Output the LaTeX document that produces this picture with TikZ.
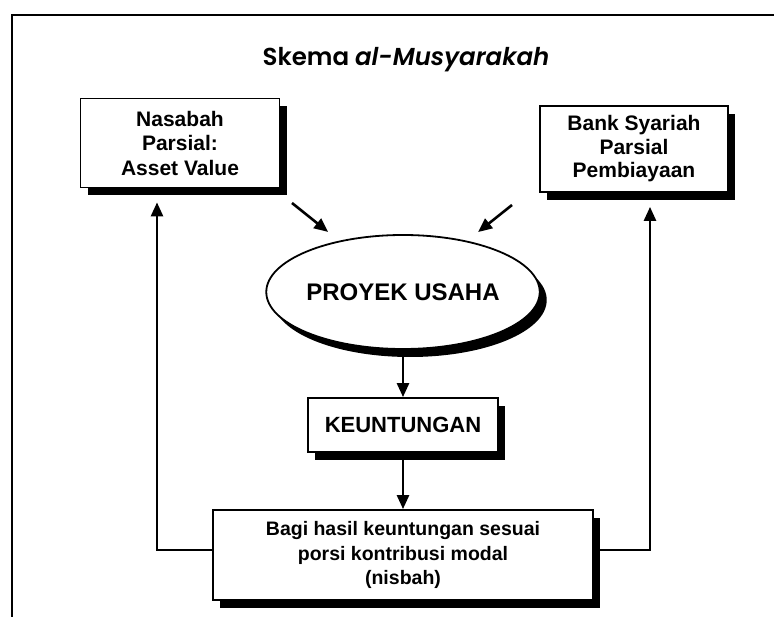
\documentclass[tikz,border=0pt]{standalone}
\usepackage{fontspec}
\setmainfont{Liberation Sans}
\newfontfamily\titlefont{Poppins}[UprightFont=* SemiBold,ItalicFont=* SemiBold Italic]
\usetikzlibrary{arrows.meta,shapes.geometric,shadows}

\begin{document}
\begin{tikzpicture}[x=1pt,y=-1pt,>=Triangle,font=\bfseries,
    kotak/.style={draw,line width=1.8pt,fill=white,align=center,inner sep=0pt,
      drop shadow={shadow xshift=7pt,shadow yshift=-8pt,fill=black,opacity=1}},
    alir/.style={line width=2.6pt,-{Triangle[length=14pt,width=12pt]}}]
    \useasboundingbox (0,0) rectangle (774,617);
    \draw[line width=1.2pt] (12,617) -- (12,15) -- (774,15);
    \node[font=\titlefont\fontsize{24.5}{30}\selectfont] (judul) at (406,60) {Skema \textit{al-Musyarakah}};
    \node[kotak,minimum width=199pt,minimum height=89pt,font=\bfseries\fontsize{21}{24.5}\selectfont] (nasabah) at (180,143) {Nasabah\\Parsial:\\Asset Value};
    \node[kotak,minimum width=188pt,minimum height=86pt,font=\bfseries\fontsize{21}{23.5}\selectfont] (bank) at (634,149) {Bank Syariah\\Parsial\\Pembiayaan};
    \node[kotak,ellipse,minimum width=222pt,minimum height=114pt,font=\bfseries\fontsize{24}{28}\selectfont] (usaha) at (403,292) {PROYEK USAHA};
    \node[kotak,minimum width=190pt,minimum height=54pt,font=\bfseries\fontsize{22}{26}\selectfont] (untung) at (403,425) {KEUNTUNGAN};
    \node[kotak,minimum width=380pt,minimum height=90pt,font=\bfseries\fontsize{19.5}{24.5}\selectfont] (bagi) at (403,555) {Bagi hasil keuntungan sesuai\\porsi kontribusi modal\\(nisbah)};
    \coordinate (kiri) at (292,203);
    \coordinate (kanan) at (512,205);
    \draw[alir,shorten >=14pt] (kiri) -- (usaha);
    \draw[alir,shorten >=14pt] (kanan) -- (usaha);
    \draw[alir] (usaha.south) -- (untung.north);
    \draw[alir] (untung.south) -- (bagi.north);
    \draw[alir,shorten >=14pt] ([yshift=5pt]bagi.west) -| ([xshift=-23pt]nasabah.south);
    \draw[alir,shorten >=14pt] ([yshift=5pt]bagi.east) -| ([xshift=16pt]bank.south);
\end{tikzpicture}
\end{document}
